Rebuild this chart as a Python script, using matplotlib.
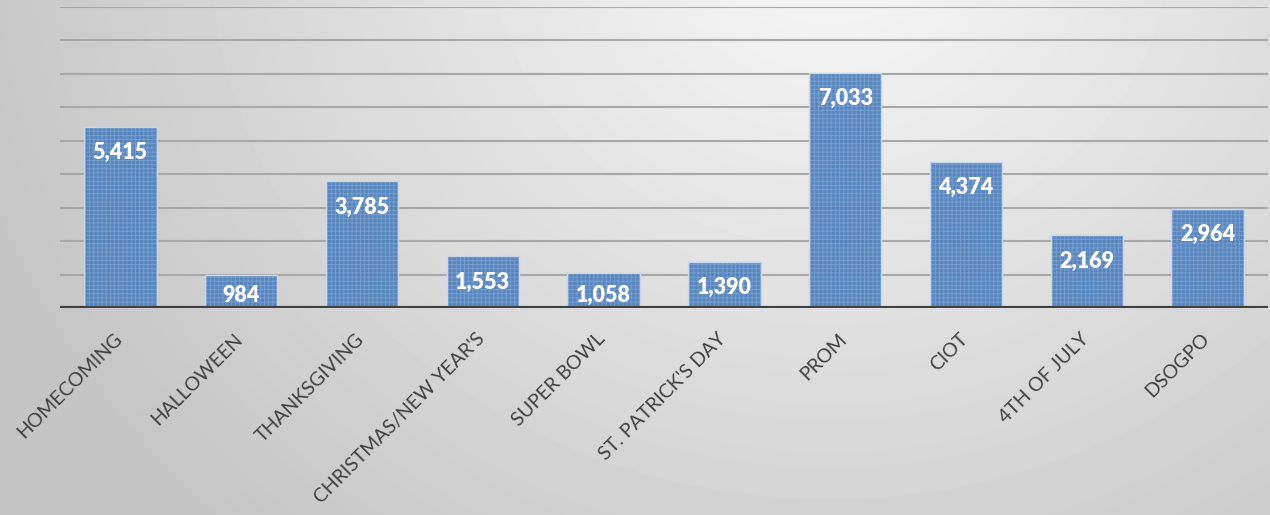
import numpy as np
import matplotlib
matplotlib.use('Agg')
import matplotlib.pyplot as plt
import matplotlib.transforms as mtransforms

# chart data
events = ['HOMECOMING', 'HALLOWEEN', 'THANKSGIVING', "CHRISTMAS/NEW YEAR'S",
          'SUPER BOWL', "ST. PATRICK'S DAY", 'PROM', 'CIOT', '4TH OF JULY', 'DSOGPO']
counts = [5415, 984, 3785, 1553, 1058, 1390, 7033, 4374, 2169, 2964]
grid_values = list(range(1000, 10000, 1000))

plt.rcParams['font.family'] = ['Lato', 'DejaVu Sans']
plt.rcParams['hatch.linewidth'] = 0.6

fig = plt.figure(figsize=(12.7, 5.15), dpi=100)

# soft grey radial background like the office chart area
bg = fig.add_axes([0, 0, 1, 1], zorder=-10)
yy, xx = np.mgrid[0:515, 0:1270]
r = np.sqrt((xx - 830) ** 2 + ((yy + 60) / 0.9) ** 2)
shade = 0.97 - 0.20 * np.clip(r / 900, 0, 1)
bg.imshow(shade, cmap='gray', vmin=0, vmax=1, aspect='auto', interpolation='bilinear')
bg.axis('off')

ax = fig.add_axes([60 / 1270, 1 - 308 / 515, 1208 / 1270, 301 / 515])
ax.patch.set_alpha(0)

x = np.arange(len(events))
for g in grid_values:
    ax.axhline(g, color='#a8a8a8', lw=1.5, zorder=1)

ax.bar(x, counts, width=0.6, color='#4f81bd', edgecolor='#7ba0d2',
       hatch='++++', linewidth=0, alpha=0.93, zorder=2)
ax.bar(x, counts, width=0.6, fill=False, edgecolor='#c9d7ec', linewidth=1.0, zorder=3)
ax.axhline(0, color='#404040', lw=3, zorder=4)

# labels sit inside the bar end; short bars push them up a bit
px_per_unit = 301 / 9000
for xi, v in zip(x, counts):
    off_px = min(26, v * px_per_unit - 13)
    ax.annotate(f'{v:,}', (xi, v), xytext=(0, -off_px * 0.72), textcoords='offset points',
                ha='center', va='center', color='white', fontsize=15.5,
                fontweight='heavy', zorder=5)

ax.set_xlim(-0.5, len(events) - 0.5)
ax.set_ylim(0, 9000)
ax.set_yticks([])
ax.set_xticks(x)
ax.set_xticklabels(events, rotation=45, ha='right', va='top', fontsize=14, color='#404040')
ax.tick_params(axis='x', length=0, pad=16)
shift = mtransforms.ScaledTranslation(5 / 100, 0, fig.dpi_scale_trans)
for lbl in ax.get_xticklabels():
    lbl.set_transform(lbl.get_transform() + shift)
for s in ax.spines.values():
    s.set_visible(False)

plt.savefig('out.png', dpi=100)
